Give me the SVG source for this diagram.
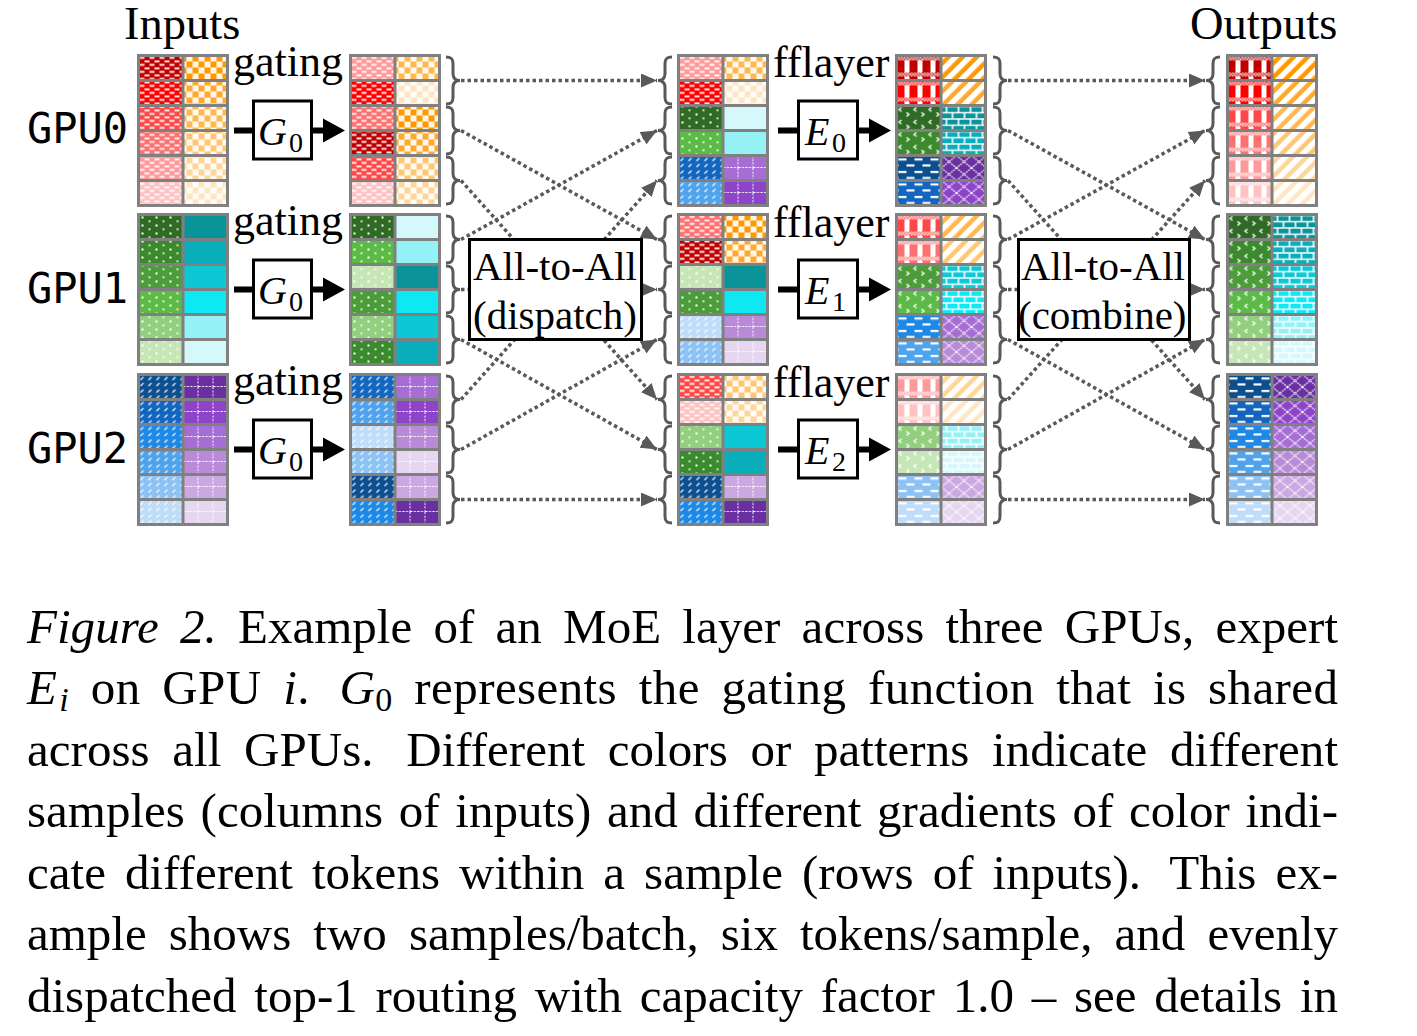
<svg xmlns="http://www.w3.org/2000/svg" xmlns:xlink="http://www.w3.org/1999/xlink" width="1417" height="1036" viewBox="0 0 1417 1036">
<style>
.lbl{font-family:"Liberation Serif","Times New Roman",serif;font-size:44px;fill:#000}
.big{font-family:"Liberation Serif","Times New Roman",serif;font-size:46.5px;fill:#000}
.gpu{font-family:"DejaVu Sans Mono","Liberation Mono",monospace;font-size:42px;fill:#000}
.box{font-family:"Liberation Serif","Times New Roman",serif;font-size:41px;fill:#000}
.cap{font-family:"Liberation Serif","Times New Roman",serif;font-size:49px;fill:#000}
.math{font-family:"Liberation Serif","Times New Roman",serif;font-style:italic;font-size:40px}
.sub{font-family:"Liberation Serif","Times New Roman",serif;font-style:normal;font-size:28px}
.dot{stroke:#595959;stroke-width:3.5;stroke-dasharray:3.5 3;fill:none;marker-end:url(#ah)}
.br{stroke:#595959;stroke-width:3;fill:none}
.thick{stroke:#000;stroke-width:6;fill:none}
.fbox{fill:#fff;stroke:#000;stroke-width:3}
</style>
<defs>
<marker id="ah" viewBox="0 0 16 14" refX="16" refY="7" markerWidth="16" markerHeight="14" markerUnits="userSpaceOnUse" orient="auto"><path d="M0,0L16,7L0,14z" fill="#595959" stroke="none"/></marker>
<pattern id="pRI" width="10" height="7" patternUnits="userSpaceOnUse"><path d="M1,1.5h5v1.8h-5zM6,5h4v1.8h-4zM0,5h1v1.8h-1z" fill="#fff"/></pattern>
<pattern id="pOI" width="12" height="12" patternUnits="userSpaceOnUse"><path d="M0,0h6v6h-6zM6,6h6v6h-6z" fill="#fff" fill-opacity="0.9"/></pattern>
<pattern id="pGI" width="14" height="8" patternUnits="userSpaceOnUse"><path d="M3,2h2v2h-2zM10,6h2v1.6h-2z" fill="#fff"/></pattern>
<pattern id="pBI" width="8" height="12.5" patternUnits="userSpaceOnUse"><path d="M2,5.5L5,2.5M2,11.5L5,8.5" stroke="#fff" stroke-width="1.2"/></pattern>
<pattern id="pPI" width="15" height="12.5" patternUnits="userSpaceOnUse"><path d="M14.5,0V12.5M0,12H15" stroke="#fff" stroke-width="1" stroke-dasharray="2 1.5"/></pattern>
<pattern id="pChk" width="3" height="3" patternUnits="userSpaceOnUse"><path d="M0,0h1.5v1.5h-1.5zM1.5,1.5h1.5v1.5h-1.5z" fill="#fff"/></pattern>
<pattern id="pRO" width="13" height="25" patternUnits="userSpaceOnUse"><rect width="13" height="5" fill="url(#pChk)"/><rect x="8" y="5" width="5" height="12" fill="#fff"/><rect y="17" width="13" height="4" fill="url(#pChk)"/><rect x="8" y="21" width="5" height="4" fill="#fff"/></pattern>
<pattern id="pOO" width="10" height="10" patternUnits="userSpaceOnUse" patternTransform="rotate(45)"><rect width="5.5" height="10" fill="#fff"/></pattern>
<pattern id="pGO" width="15" height="12.5" patternUnits="userSpaceOnUse"><path d="M5,2L2.5,4L5,6M10,7L12.5,9L10,11" stroke="#fff" stroke-width="1.3" fill="none"/></pattern>
<pattern id="pTO" width="24" height="12.5" patternUnits="userSpaceOnUse"><path d="M0,1H24M0,7.25H24M2,1V7.25M14,1V7.25M8,7.25V12.5M20,7.25V12.5" stroke="#fff" stroke-width="1.6"/></pattern>
<pattern id="pBO" width="16" height="12.5" patternUnits="userSpaceOnUse"><path d="M2,3h8v2h-8zM10,9h6v2h-6zM0,9h2v2h-2z" fill="#fff"/></pattern>
<pattern id="pPO" width="15" height="12.5" patternUnits="userSpaceOnUse"><path d="M0,0L15,12.5M15,0L0,12.5" stroke="#fff" stroke-width="1.3" stroke-dasharray="1.6 1"/></pattern>
<g id="grid"><path d="M44.5,0V150M0,25H89M0,50H89M0,75H89M0,100H89M0,125H89" stroke="#808080" stroke-width="3" fill="none"/><rect width="89" height="150" fill="none" stroke="#808080" stroke-width="3"/></g>
<path id="bR" d="M0,1.5C5,1.5 7,3 7,8V18C7,22.5 9,25 14,25C9,25 7,27.5 7,32V42C7,47 5,48.5 0,48.5"/>
<path id="bL" d="M14,1.5C9,1.5 7,3 7,8V18C7,22.5 5,25 0,25C5,25 7,27.5 7,32V42C7,47 9,48.5 14,48.5"/>
</defs>
<rect width="1417" height="1036" fill="#fff"/>

<text class="big" x="124" y="39">Inputs</text>
<text class="big" x="1190" y="39">Outputs</text>
<text class="gpu" x="27" y="143">GPU0</text>
<text class="gpu" x="27" y="303">GPU1</text>
<text class="gpu" x="27" y="463">GPU2</text>

<!-- Input blocks -->
<g id="in0" transform="translate(138.5,55.5)">
<rect y="0" width="44.5" height="25" fill="#c00000"/><rect y="25" width="44.5" height="25" fill="#ff0000"/><rect y="50" width="44.5" height="25" fill="#ff4747"/><rect y="75" width="44.5" height="25" fill="#ff7070"/><rect y="100" width="44.5" height="25" fill="#ff9a9a"/><rect y="125" width="44.5" height="25" fill="#ffc2c2"/>
<rect x="44.5" y="0" width="44.5" height="25" fill="#ff9900"/><rect x="44.5" y="25" width="44.5" height="25" fill="#ffa82e"/><rect x="44.5" y="50" width="44.5" height="25" fill="#ffb84f"/><rect x="44.5" y="75" width="44.5" height="25" fill="#ffc773"/><rect x="44.5" y="100" width="44.5" height="25" fill="#ffd699"/><rect x="44.5" y="125" width="44.5" height="25" fill="#ffe6c2"/>
<rect width="44.5" height="150" fill="url(#pRI)"/><rect x="44.5" width="44.5" height="150" fill="url(#pOI)"/>
<use href="#grid"/>
</g>
<g id="in1" transform="translate(138.5,214.5)">
<rect y="0" width="44.5" height="25" fill="#2f6b24"/><rect y="25" width="44.5" height="25" fill="#3c8a2e"/><rect y="50" width="44.5" height="25" fill="#4c9c3a"/><rect y="75" width="44.5" height="25" fill="#5cbb46"/><rect y="100" width="44.5" height="25" fill="#92cf7e"/><rect y="125" width="44.5" height="25" fill="#c6e6b6"/>
<rect x="44.5" y="0" width="44.5" height="25" fill="#0a9398"/><rect x="44.5" y="25" width="44.5" height="25" fill="#0aaebb"/><rect x="44.5" y="50" width="44.5" height="25" fill="#0cc8d4"/><rect x="44.5" y="75" width="44.5" height="25" fill="#0de8f2"/><rect x="44.5" y="100" width="44.5" height="25" fill="#94f1f6"/><rect x="44.5" y="125" width="44.5" height="25" fill="#d5f8fa"/>
<rect width="44.5" height="150" fill="url(#pGI)"/>
<use href="#grid"/>
</g>
<g id="in2" transform="translate(138.5,374.5)">
<rect y="0" width="44.5" height="25" fill="#0c4f8f"/><rect y="25" width="44.5" height="25" fill="#1366bf"/><rect y="50" width="44.5" height="25" fill="#1e88e5"/><rect y="75" width="44.5" height="25" fill="#4fa3ec"/><rect y="100" width="44.5" height="25" fill="#8cc3f4"/><rect y="125" width="44.5" height="25" fill="#bfdcf8"/>
<rect x="44.5" y="0" width="44.5" height="25" fill="#6a2fa0"/><rect x="44.5" y="25" width="44.5" height="25" fill="#8e44c8"/><rect x="44.5" y="50" width="44.5" height="25" fill="#a66ed4"/><rect x="44.5" y="75" width="44.5" height="25" fill="#b88ad8"/><rect x="44.5" y="100" width="44.5" height="25" fill="#cca8e2"/><rect x="44.5" y="125" width="44.5" height="25" fill="#e6d6f0"/>
<rect width="44.5" height="150" fill="url(#pBI)"/><rect x="44.5" width="44.5" height="150" fill="url(#pPI)"/>
<use href="#grid"/>
</g>

<!-- gating -->
<g id="gate0"><text class="lbl" x="233" y="76">gating</text><path class="thick" d="M234,130.5H252M313,130.5H325"/><path d="M323,118.5L345,130.5L323,142.5z"/><rect class="fbox" x="253.5" y="101" width="58" height="58"/><text class="math" x="258" y="145">G</text><text class="sub" x="289" y="152">0</text></g>
<g id="gate1"><text class="lbl" x="233" y="235">gating</text><path class="thick" d="M234,289.5H252M313,289.5H325"/><path d="M323,277.5L345,289.5L323,301.5z"/><rect class="fbox" x="253.5" y="260" width="58" height="58"/><text class="math" x="258" y="304">G</text><text class="sub" x="289" y="311">0</text></g>
<g id="gate2"><text class="lbl" x="233" y="395">gating</text><path class="thick" d="M234,449.5H252M313,449.5H325"/><path d="M323,437.5L345,449.5L323,461.5z"/><rect class="fbox" x="253.5" y="420" width="58" height="58"/><text class="math" x="258" y="464">G</text><text class="sub" x="289" y="471">0</text></g>

<!-- gated blocks -->
<g id="gated0" transform="translate(350.5,55.5)">
<rect y="0" width="44.5" height="25" fill="#ff9a9a"/><rect y="25" width="44.5" height="25" fill="#ff0000"/><rect y="50" width="44.5" height="25" fill="#ff7070"/><rect y="75" width="44.5" height="25" fill="#c00000"/><rect y="100" width="44.5" height="25" fill="#ff4747"/><rect y="125" width="44.5" height="25" fill="#ffc2c2"/>
<rect x="44.5" y="0" width="44.5" height="25" fill="#ffb84f"/><rect x="44.5" y="25" width="44.5" height="25" fill="#ffe6c2"/><rect x="44.5" y="50" width="44.5" height="25" fill="#ff9900"/><rect x="44.5" y="75" width="44.5" height="25" fill="#ffa82e"/><rect x="44.5" y="100" width="44.5" height="25" fill="#ffc773"/><rect x="44.5" y="125" width="44.5" height="25" fill="#ffd699"/>
<rect width="44.5" height="150" fill="url(#pRI)"/><rect x="44.5" width="44.5" height="150" fill="url(#pOI)"/>
<use href="#grid"/>
</g>
<g id="gated1" transform="translate(350.5,214.5)">
<rect y="0" width="44.5" height="25" fill="#2f6b24"/><rect y="25" width="44.5" height="25" fill="#5cbb46"/><rect y="50" width="44.5" height="25" fill="#c6e6b6"/><rect y="75" width="44.5" height="25" fill="#4c9c3a"/><rect y="100" width="44.5" height="25" fill="#92cf7e"/><rect y="125" width="44.5" height="25" fill="#3c8a2e"/>
<rect x="44.5" y="0" width="44.5" height="25" fill="#d5f8fa"/><rect x="44.5" y="25" width="44.5" height="25" fill="#94f1f6"/><rect x="44.5" y="50" width="44.5" height="25" fill="#0a9398"/><rect x="44.5" y="75" width="44.5" height="25" fill="#0de8f2"/><rect x="44.5" y="100" width="44.5" height="25" fill="#0cc8d4"/><rect x="44.5" y="125" width="44.5" height="25" fill="#0aaebb"/>
<rect width="44.5" height="150" fill="url(#pGI)"/>
<use href="#grid"/>
</g>
<g id="gated2" transform="translate(350.5,374.5)">
<rect y="0" width="44.5" height="25" fill="#1366bf"/><rect y="25" width="44.5" height="25" fill="#4fa3ec"/><rect y="50" width="44.5" height="25" fill="#bfdcf8"/><rect y="75" width="44.5" height="25" fill="#8cc3f4"/><rect y="100" width="44.5" height="25" fill="#0c4f8f"/><rect y="125" width="44.5" height="25" fill="#1e88e5"/>
<rect x="44.5" y="0" width="44.5" height="25" fill="#a66ed4"/><rect x="44.5" y="25" width="44.5" height="25" fill="#8e44c8"/><rect x="44.5" y="50" width="44.5" height="25" fill="#b88ad8"/><rect x="44.5" y="75" width="44.5" height="25" fill="#e6d6f0"/><rect x="44.5" y="100" width="44.5" height="25" fill="#cca8e2"/><rect x="44.5" y="125" width="44.5" height="25" fill="#6a2fa0"/>
<rect width="44.5" height="150" fill="url(#pBI)"/><rect x="44.5" width="44.5" height="150" fill="url(#pPI)"/>
<use href="#grid"/>
</g>

<!-- connectors -->
<g id="connectors">
<g class="br">
<use href="#bR" x="446" y="55.5"/><use href="#bR" x="446" y="105.5"/><use href="#bR" x="446" y="155.5"/>
<use href="#bR" x="446" y="214.5"/><use href="#bR" x="446" y="264.5"/><use href="#bR" x="446" y="314.5"/>
<use href="#bR" x="446" y="374.5"/><use href="#bR" x="446" y="424.5"/><use href="#bR" x="446" y="474.5"/>
<use href="#bL" x="658" y="55.5"/><use href="#bL" x="658" y="105.5"/><use href="#bL" x="658" y="155.5"/>
<use href="#bL" x="658" y="214.5"/><use href="#bL" x="658" y="264.5"/><use href="#bL" x="658" y="314.5"/>
<use href="#bL" x="658" y="374.5"/><use href="#bL" x="658" y="424.5"/><use href="#bL" x="658" y="474.5"/>
<use href="#bR" x="993" y="55.5"/><use href="#bR" x="993" y="105.5"/><use href="#bR" x="993" y="155.5"/>
<use href="#bR" x="993" y="214.5"/><use href="#bR" x="993" y="264.5"/><use href="#bR" x="993" y="314.5"/>
<use href="#bR" x="993" y="374.5"/><use href="#bR" x="993" y="424.5"/><use href="#bR" x="993" y="474.5"/>
<use href="#bL" x="1206" y="55.5"/><use href="#bL" x="1206" y="105.5"/><use href="#bL" x="1206" y="155.5"/>
<use href="#bL" x="1206" y="214.5"/><use href="#bL" x="1206" y="264.5"/><use href="#bL" x="1206" y="314.5"/>
<use href="#bL" x="1206" y="374.5"/><use href="#bL" x="1206" y="424.5"/><use href="#bL" x="1206" y="474.5"/>
</g>
<path class="dot" d="M461,80.5L657,80.5"/>
<path class="dot" d="M461,130.5L657,239.5"/>
<path class="dot" d="M461,180.5L657,399.5"/>
<path class="dot" d="M461,239.5L657,130.5"/>
<path class="dot" d="M461,289.5L657,289.5"/>
<path class="dot" d="M461,339.5L657,449.5"/>
<path class="dot" d="M461,399.5L657,180.5"/>
<path class="dot" d="M461,449.5L657,339.5"/>
<path class="dot" d="M461,499.5L657,499.5"/>
<path class="dot" d="M1008,80.5L1205,80.5"/>
<path class="dot" d="M1008,130.5L1205,239.5"/>
<path class="dot" d="M1008,180.5L1205,399.5"/>
<path class="dot" d="M1008,239.5L1205,130.5"/>
<path class="dot" d="M1008,289.5L1205,289.5"/>
<path class="dot" d="M1008,339.5L1205,449.5"/>
<path class="dot" d="M1008,399.5L1205,180.5"/>
<path class="dot" d="M1008,449.5L1205,339.5"/>
<path class="dot" d="M1008,499.5L1205,499.5"/>
</g>

<g id="dispatch"><rect class="fbox" x="469.5" y="239.5" width="172" height="100" stroke-width="3.5"/><text class="box" x="473" y="280">All-to-All</text><text class="box" x="473" y="329">(dispatch)</text></g>
<g id="combine"><rect class="fbox" x="1018.5" y="239.5" width="171" height="100" stroke-width="3.5"/><text class="box" x="1021" y="280">All-to-All</text><text class="box" x="1018" y="329">(combine)</text></g>

<!-- middle blocks -->
<g id="mid0" transform="translate(678.5,55.5)">
<rect y="0" width="44.5" height="25" fill="#ff9a9a"/><rect y="25" width="44.5" height="25" fill="#ff0000"/><rect y="50" width="44.5" height="25" fill="#2f6b24"/><rect y="75" width="44.5" height="25" fill="#5cbb46"/><rect y="100" width="44.5" height="25" fill="#1366bf"/><rect y="125" width="44.5" height="25" fill="#4fa3ec"/>
<rect x="44.5" y="0" width="44.5" height="25" fill="#ffb84f"/><rect x="44.5" y="25" width="44.5" height="25" fill="#ffe6c2"/><rect x="44.5" y="50" width="44.5" height="25" fill="#d5f8fa"/><rect x="44.5" y="75" width="44.5" height="25" fill="#94f1f6"/><rect x="44.5" y="100" width="44.5" height="25" fill="#a66ed4"/><rect x="44.5" y="125" width="44.5" height="25" fill="#8e44c8"/>
<rect width="44.5" height="50" fill="url(#pRI)"/><rect x="44.5" width="44.5" height="50" fill="url(#pOI)"/><rect y="50" width="44.5" height="50" fill="url(#pGI)"/><rect y="100" width="44.5" height="50" fill="url(#pBI)"/><rect x="44.5" y="100" width="44.5" height="50" fill="url(#pPI)"/>
<use href="#grid"/>
</g>
<g id="mid1" transform="translate(678.5,214.5)">
<rect y="0" width="44.5" height="25" fill="#ff7070"/><rect y="25" width="44.5" height="25" fill="#c00000"/><rect y="50" width="44.5" height="25" fill="#c6e6b6"/><rect y="75" width="44.5" height="25" fill="#4c9c3a"/><rect y="100" width="44.5" height="25" fill="#bfdcf8"/><rect y="125" width="44.5" height="25" fill="#8cc3f4"/>
<rect x="44.5" y="0" width="44.5" height="25" fill="#ff9900"/><rect x="44.5" y="25" width="44.5" height="25" fill="#ffa82e"/><rect x="44.5" y="50" width="44.5" height="25" fill="#0a9398"/><rect x="44.5" y="75" width="44.5" height="25" fill="#0de8f2"/><rect x="44.5" y="100" width="44.5" height="25" fill="#b88ad8"/><rect x="44.5" y="125" width="44.5" height="25" fill="#e6d6f0"/>
<rect width="44.5" height="50" fill="url(#pRI)"/><rect x="44.5" width="44.5" height="50" fill="url(#pOI)"/><rect y="50" width="44.5" height="50" fill="url(#pGI)"/><rect y="100" width="44.5" height="50" fill="url(#pBI)"/><rect x="44.5" y="100" width="44.5" height="50" fill="url(#pPI)"/>
<use href="#grid"/>
</g>
<g id="mid2" transform="translate(678.5,374.5)">
<rect y="0" width="44.5" height="25" fill="#ff4747"/><rect y="25" width="44.5" height="25" fill="#ffc2c2"/><rect y="50" width="44.5" height="25" fill="#92cf7e"/><rect y="75" width="44.5" height="25" fill="#3c8a2e"/><rect y="100" width="44.5" height="25" fill="#0c4f8f"/><rect y="125" width="44.5" height="25" fill="#1e88e5"/>
<rect x="44.5" y="0" width="44.5" height="25" fill="#ffc773"/><rect x="44.5" y="25" width="44.5" height="25" fill="#ffd699"/><rect x="44.5" y="50" width="44.5" height="25" fill="#0cc8d4"/><rect x="44.5" y="75" width="44.5" height="25" fill="#0aaebb"/><rect x="44.5" y="100" width="44.5" height="25" fill="#cca8e2"/><rect x="44.5" y="125" width="44.5" height="25" fill="#6a2fa0"/>
<rect width="44.5" height="50" fill="url(#pRI)"/><rect x="44.5" width="44.5" height="50" fill="url(#pOI)"/><rect y="50" width="44.5" height="50" fill="url(#pGI)"/><rect y="100" width="44.5" height="50" fill="url(#pBI)"/><rect x="44.5" y="100" width="44.5" height="50" fill="url(#pPI)"/>
<use href="#grid"/>
</g>

<!-- experts -->
<g id="expert0"><text class="lbl" x="773" y="77">fflayer</text><path class="thick" d="M778,130.5H797M859,130.5H871"/><path d="M869,118.5L891,130.5L869,142.5z"/><rect class="fbox" x="798.5" y="101" width="59" height="58"/><text class="math" x="805" y="145">E</text><text class="sub" x="832" y="152">0</text></g>
<g id="expert1"><text class="lbl" x="773" y="237">fflayer</text><path class="thick" d="M778,289.5H797M859,289.5H871"/><path d="M869,277.5L891,289.5L869,301.5z"/><rect class="fbox" x="798.5" y="260" width="59" height="58"/><text class="math" x="805" y="304">E</text><text class="sub" x="832" y="311">1</text></g>
<g id="expert2"><text class="lbl" x="773" y="397">fflayer</text><path class="thick" d="M778,449.5H797M859,449.5H871"/><path d="M869,437.5L891,449.5L869,461.5z"/><rect class="fbox" x="798.5" y="420" width="59" height="58"/><text class="math" x="805" y="464">E</text><text class="sub" x="832" y="471">2</text></g>

<g id="eout0" transform="translate(896.5,55.5)">
<rect y="0" width="44.5" height="25" fill="#c00000"/><rect y="25" width="44.5" height="25" fill="#ff0000"/><rect y="50" width="44.5" height="25" fill="#2f6b24"/><rect y="75" width="44.5" height="25" fill="#3c8a2e"/><rect y="100" width="44.5" height="25" fill="#0c4f8f"/><rect y="125" width="44.5" height="25" fill="#1366bf"/>
<rect x="44.5" y="0" width="44.5" height="25" fill="#ff9900"/><rect x="44.5" y="25" width="44.5" height="25" fill="#ffa82e"/><rect x="44.5" y="50" width="44.5" height="25" fill="#0a9398"/><rect x="44.5" y="75" width="44.5" height="25" fill="#0aaebb"/><rect x="44.5" y="100" width="44.5" height="25" fill="#6a2fa0"/><rect x="44.5" y="125" width="44.5" height="25" fill="#8e44c8"/>
<rect width="44.5" height="50" fill="url(#pRO)"/><rect x="44.5" width="44.5" height="50" fill="url(#pOO)"/><rect y="50" width="44.5" height="50" fill="url(#pGO)"/><rect x="44.5" y="50" width="44.5" height="50" fill="url(#pTO)"/><rect y="100" width="44.5" height="50" fill="url(#pBO)"/><rect x="44.5" y="100" width="44.5" height="50" fill="url(#pPO)"/>
<use href="#grid"/>
</g>
<g id="eout1" transform="translate(896.5,214.5)">
<rect y="0" width="44.5" height="25" fill="#ff4747"/><rect y="25" width="44.5" height="25" fill="#ff7070"/><rect y="50" width="44.5" height="25" fill="#4c9c3a"/><rect y="75" width="44.5" height="25" fill="#5cbb46"/><rect y="100" width="44.5" height="25" fill="#1e88e5"/><rect y="125" width="44.5" height="25" fill="#4fa3ec"/>
<rect x="44.5" y="0" width="44.5" height="25" fill="#ffb84f"/><rect x="44.5" y="25" width="44.5" height="25" fill="#ffc773"/><rect x="44.5" y="50" width="44.5" height="25" fill="#0cc8d4"/><rect x="44.5" y="75" width="44.5" height="25" fill="#0de8f2"/><rect x="44.5" y="100" width="44.5" height="25" fill="#a66ed4"/><rect x="44.5" y="125" width="44.5" height="25" fill="#b88ad8"/>
<rect width="44.5" height="50" fill="url(#pRO)"/><rect x="44.5" width="44.5" height="50" fill="url(#pOO)"/><rect y="50" width="44.5" height="50" fill="url(#pGO)"/><rect x="44.5" y="50" width="44.5" height="50" fill="url(#pTO)"/><rect y="100" width="44.5" height="50" fill="url(#pBO)"/><rect x="44.5" y="100" width="44.5" height="50" fill="url(#pPO)"/>
<use href="#grid"/>
</g>
<g id="eout2" transform="translate(896.5,374.5)">
<rect y="0" width="44.5" height="25" fill="#ff9a9a"/><rect y="25" width="44.5" height="25" fill="#ffc2c2"/><rect y="50" width="44.5" height="25" fill="#92cf7e"/><rect y="75" width="44.5" height="25" fill="#c6e6b6"/><rect y="100" width="44.5" height="25" fill="#8cc3f4"/><rect y="125" width="44.5" height="25" fill="#bfdcf8"/>
<rect x="44.5" y="0" width="44.5" height="25" fill="#ffd699"/><rect x="44.5" y="25" width="44.5" height="25" fill="#ffe6c2"/><rect x="44.5" y="50" width="44.5" height="25" fill="#94f1f6"/><rect x="44.5" y="75" width="44.5" height="25" fill="#d5f8fa"/><rect x="44.5" y="100" width="44.5" height="25" fill="#cca8e2"/><rect x="44.5" y="125" width="44.5" height="25" fill="#e6d6f0"/>
<rect width="44.5" height="50" fill="url(#pRO)"/><rect x="44.5" width="44.5" height="50" fill="url(#pOO)"/><rect y="50" width="44.5" height="50" fill="url(#pGO)"/><rect x="44.5" y="50" width="44.5" height="50" fill="url(#pTO)"/><rect y="100" width="44.5" height="50" fill="url(#pBO)"/><rect x="44.5" y="100" width="44.5" height="50" fill="url(#pPO)"/>
<use href="#grid"/>
</g>

<!-- outputs -->
<g id="out0" transform="translate(1227.5,55.5)">
<rect y="0" width="44.5" height="25" fill="#c00000"/><rect y="25" width="44.5" height="25" fill="#ff0000"/><rect y="50" width="44.5" height="25" fill="#ff4747"/><rect y="75" width="44.5" height="25" fill="#ff7070"/><rect y="100" width="44.5" height="25" fill="#ff9a9a"/><rect y="125" width="44.5" height="25" fill="#ffc2c2"/>
<rect x="44.5" y="0" width="44.5" height="25" fill="#ff9900"/><rect x="44.5" y="25" width="44.5" height="25" fill="#ffa82e"/><rect x="44.5" y="50" width="44.5" height="25" fill="#ffb84f"/><rect x="44.5" y="75" width="44.5" height="25" fill="#ffc773"/><rect x="44.5" y="100" width="44.5" height="25" fill="#ffd699"/><rect x="44.5" y="125" width="44.5" height="25" fill="#ffe6c2"/>
<rect width="44.5" height="150" fill="url(#pRO)"/><rect x="44.5" width="44.5" height="150" fill="url(#pOO)"/>
<use href="#grid"/>
</g>
<g id="out1" transform="translate(1227.5,214.5)">
<rect y="0" width="44.5" height="25" fill="#2f6b24"/><rect y="25" width="44.5" height="25" fill="#3c8a2e"/><rect y="50" width="44.5" height="25" fill="#4c9c3a"/><rect y="75" width="44.5" height="25" fill="#5cbb46"/><rect y="100" width="44.5" height="25" fill="#92cf7e"/><rect y="125" width="44.5" height="25" fill="#c6e6b6"/>
<rect x="44.5" y="0" width="44.5" height="25" fill="#0a9398"/><rect x="44.5" y="25" width="44.5" height="25" fill="#0aaebb"/><rect x="44.5" y="50" width="44.5" height="25" fill="#0cc8d4"/><rect x="44.5" y="75" width="44.5" height="25" fill="#0de8f2"/><rect x="44.5" y="100" width="44.5" height="25" fill="#94f1f6"/><rect x="44.5" y="125" width="44.5" height="25" fill="#d5f8fa"/>
<rect width="44.5" height="150" fill="url(#pGO)"/><rect x="44.5" width="44.5" height="150" fill="url(#pTO)"/>
<use href="#grid"/>
</g>
<g id="out2" transform="translate(1227.5,374.5)">
<rect y="0" width="44.5" height="25" fill="#0c4f8f"/><rect y="25" width="44.5" height="25" fill="#1366bf"/><rect y="50" width="44.5" height="25" fill="#1e88e5"/><rect y="75" width="44.5" height="25" fill="#4fa3ec"/><rect y="100" width="44.5" height="25" fill="#8cc3f4"/><rect y="125" width="44.5" height="25" fill="#bfdcf8"/>
<rect x="44.5" y="0" width="44.5" height="25" fill="#6a2fa0"/><rect x="44.5" y="25" width="44.5" height="25" fill="#8e44c8"/><rect x="44.5" y="50" width="44.5" height="25" fill="#a66ed4"/><rect x="44.5" y="75" width="44.5" height="25" fill="#b88ad8"/><rect x="44.5" y="100" width="44.5" height="25" fill="#cca8e2"/><rect x="44.5" y="125" width="44.5" height="25" fill="#e6d6f0"/>
<rect width="44.5" height="150" fill="url(#pBO)"/><rect x="44.5" width="44.5" height="150" fill="url(#pPO)"/>
<use href="#grid"/>
</g>

<!-- caption -->
<g id="caption">
<text class="cap" x="27" y="643" textLength="1311" style="word-spacing:8.9px"><tspan font-style="italic">Figure 2.</tspan> Example of an MoE layer across three GPUs, expert</text>
<text class="cap" x="27" y="704" textLength="1311" style="word-spacing:9px"><tspan font-style="italic">E</tspan><tspan font-style="italic" font-size="34" dx="2" dy="7">i</tspan><tspan dy="-7"> on GPU </tspan><tspan font-style="italic">i</tspan>. <tspan font-style="italic" dx="8">G</tspan><tspan font-size="34" dy="7">0</tspan><tspan dy="-7"> represents the gating function that is shared</tspan></text>
<text class="cap" x="27" y="766" textLength="1311" style="word-spacing:10.4px">across all GPUs. <tspan dx="10">Different</tspan> colors or patterns indicate different</text>
<text class="cap" x="27" y="827" textLength="1311" style="word-spacing:3.4px">samples (columns of inputs) and different gradients of color indi-</text>
<text class="cap" x="27" y="889" textLength="1311" style="word-spacing:6.7px">cate different tokens within a sample (rows of inputs). <tspan dx="10">This</tspan> ex-</text>
<text class="cap" x="27" y="950" textLength="1311" style="word-spacing:9.8px">ample shows two samples/batch, six tokens/sample, and evenly</text>
<text class="cap" x="27" y="1012" textLength="1311" style="word-spacing:5.5px">dispatched top-1 routing with capacity factor 1.0 – see details in</text>
</g>
</svg>
